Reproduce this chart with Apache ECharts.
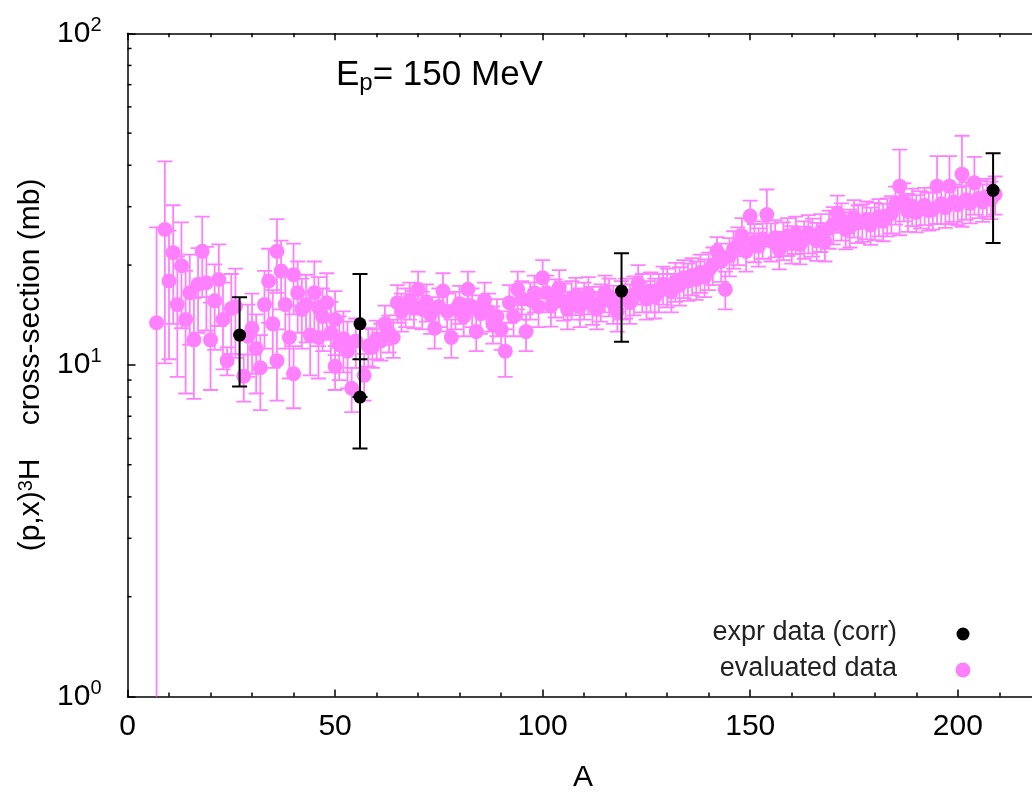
<!DOCTYPE html>
<html>
<head>
<meta charset="utf-8">
<script src="https://cdn.jsdelivr.net/npm/echarts@6/dist/echarts.min.js"></script>
<style>
html,body{margin:0;padding:0;background:#fff;overflow:hidden;width:1032px;height:798px;}
#chart{width:1180px;height:798px;}
</style>
</head>
<body>
<div id="chart"></div>
<script>
// ---- data ----
const pinkA = [7,9,10,11,12,13,14,15,16,17,18,19,20,21,22,23,24,25,26,28,29,30,31,32,33,34,35,36,36,37,38,39,40,40,41,42,43,44,45,46,46,47,48,49,50,50,51,52,53,54,55,57,
  58,59,60,61,62,63,64,65,66,67,
  68,69,70,71,72,73,74,75,76,77,
  78,79,80,81,82,83,84,85,86,87,
  88,89,90,91,92,93,94,95,96,97,
  98,99,100,101,102,103,104,105,106,107,
  108,109,110,111,112,113,114,115,116,117,
  118,119,120,121,122,123,124,125,126,127,
  128,129,130,131,132,133,134,135,136,137,
  138,139,140,141,142,143,144,145,146,147,
  148,149,150,151,152,153,154,155,156,157,
  158,159,160,161,162,163,164,165,166,167,
  168,169,170,171,172,173,174,175,176,177,
  178,179,180,181,182,183,184,185,186,187,
  188,189,190,191,192,193,194,195,196,197,
  198,199,200,201,202,203,204,205,206,207,
  208,209];
const pinkV = [13.4,25.6,17.9,21.8,15.2,19.9,13.7,16.5,11.9,17.5,22.0,17.7,11.9,15.6,18.1,13.7,10.3,14.8,15.0,9.25,12.2,12.9,11.2,9.8,15.2,17.9,13.3,22.0,10.3,19.2,15.2,12.1,18.7,9.4,16.5,14.7,15.2,12.3,16.5,12.1,14.9,14.0,15.4,12.5,9.9,13.7,11.5,12.0,11.0,8.5,11.8,9.3,
  11.4,11.3,12.0,11.8,13.3,12.5,12.1,15.4,14.5,15.0,
  15.7,14.8,16.9,14.7,15.5,14.2,12.9,15.0,16.7,14.5,
  12.1,14.7,15.3,14.0,16.9,15.0,12.6,14.3,15.7,14.5,
  13.3,14.0,12.8,11.0,15.4,14.0,16.9,15.8,12.6,15.7,
  16.5,15.0,18.3,16.5,15.05,16.0,17.1,15.6,14.7,15.8,
  16.2,15.0,15.7,16.3,15.2,14.7,15.5,16.5,16.1,15.3,
  14.5,15.8,16.0,15.4,16.3,17.6,16.6,15.8,16.7,16.0,
  16.6,17.5,17.2,16.6,17.9,17.4,18.3,17.9,18.6,18.1,
  19.0,18.4,19.3,20.0,22.0,20.5,16.9,21.3,22.4,23.0,
  24.5,22.0,28.1,23.5,22.8,24.0,28.4,23.6,24.2,22.3,
  23.8,24.5,23.2,24.8,23.1,24.0,25.0,24.4,23.7,25.2,
  23.6,25.8,26.5,28.7,27.2,25.6,26.0,27.8,26.8,27.0,
  27.5,26.4,27.3,28.0,27.1,28.1,28.6,30.5,34.6,31.2,
  29.0,30.1,28.8,29.6,30.3,29.2,29.4,34.6,30.6,29.8,
  34.6,31.0,30.4,37.6,31.5,30.7,35.4,31.8,31.0,32.2,
  31.6,32.7];
const pinkErr = [12.6,15.5,7.5,8.5,6.0,7.0,5.5,5.0,4.0,5.0,6.0,5.0,3.5,4.5,5.0,4.0,1.0,4.0,4.5,1.5,3.0,3.5,3.0,2.5,4.0,4.5,3.5,5.5,2.5,4.5,4.0,3.0,4.5,2.0,4.0,3.5,3.5,3.0,4.0,3.0,3.5,3.0,3.5,3.0,1.5,3.0,2.5,2.5,2.5,1.3,2.0,1.5,
  1.5,1.5,1.6,1.5,1.8,1.6,1.6,2.0,1.9,2.0,
  2.0,1.9,2.2,1.9,2.0,1.8,1.7,2.0,2.2,1.9,
  1.6,1.9,2.0,1.8,2.2,2.0,1.6,1.9,2.0,1.9,
  1.7,1.8,1.7,1.8,2.0,1.8,2.2,2.1,1.6,2.0,
  2.1,2.0,2.4,2.1,2.0,2.1,2.2,2.0,1.9,2.1,
  2.1,2.0,2.0,2.1,2.0,1.9,2.0,2.1,2.1,2.0,
  1.9,2.1,2.2,2.1,2.2,2.4,2.2,2.1,2.3,2.2,
  2.2,2.3,2.3,2.2,2.4,2.3,2.4,2.3,2.4,2.4,
  2.5,2.4,2.5,2.6,2.3,2.7,2.2,2.8,2.9,3.0,
  3.2,2.9,3.2,3.1,3.0,3.1,5.4,3.1,3.1,2.9,
  3.1,3.2,3.0,3.2,3.0,3.1,3.3,3.2,3.1,3.3,
  3.1,3.4,3.4,3.7,3.5,3.3,3.4,3.6,3.5,3.5,
  3.6,3.4,3.5,3.6,3.5,3.7,3.7,4.0,10.0,4.1,
  3.8,3.9,3.7,3.8,3.9,3.8,3.8,8.0,4.0,3.9,
  8.0,4.0,4.0,11.5,4.1,4.0,7.0,4.1,4.0,4.2,
  4.1,4.3];

const exprA  = [27, 56, 56, 119, 208.5];
const exprV  = [12.3, 13.3, 8.0, 16.7, 33.6];
const exprLo = [8.6, 8.0, 5.6, 11.75, 23.3];
const exprHi = [16.0, 18.8, 10.4, 21.7, 43.5];

const xTicks = {min: 0, max: 250, interval: 50};
const yLogMin = 1, yLogMax = 100;
const yMinorTicks = [2,3,4,5,6,7,8,9,20,30,40,50,60,70,80,90];

const titleMain = 'E', titleSub = 'p', titleRest = '= 150 MeV';
const yTitle = '(p,x){s|3}H    cross-section (mb)';
const xTitle = 'A';
const legendNames = ['expr data (corr)', 'evaluated data'];

// ---- chart ----
const PINK = '#ff80ff';
const FONT = '"Liberation Sans", Arial, sans-serif';
const chart = echarts.init(document.getElementById('chart'), null, {renderer: 'canvas'});

function errRender(color, lw, hw) {
  return function (params, api) {
    const x = api.value(0), lo = api.value(1), hi = api.value(2);
    const a = api.coord([x, lo]), b = api.coord([x, hi]);
    const st = {stroke: color, lineWidth: lw};
    return {type: 'group', children: [
      {type: 'line', shape: {x1: a[0], y1: a[1], x2: b[0], y2: b[1]}, style: st},
      {type: 'line', shape: {x1: a[0] - hw, y1: a[1], x2: a[0] + hw, y2: a[1]}, style: st},
      {type: 'line', shape: {x1: b[0] - hw, y1: b[1], x2: b[0] + hw, y2: b[1]}, style: st}
    ]};
  };
}

const gridLeft = 127.5, gridTop = 33.3, gridW = 250 * 4.1515, gridH = 663.2;

const option = {
  backgroundColor: '#fff',
  animation: false,
  grid: {left: gridLeft, top: gridTop, width: gridW, height: gridH, containLabel: false},
  xAxis: [{
    type: 'value', min: xTicks.min, max: xTicks.max, interval: xTicks.interval,
    position: 'bottom',
    axisLine: {show: true, lineStyle: {color: '#000', width: 1.5}},
    axisTick: {show: true, inside: true, length: 7, lineStyle: {color: '#000', width: 1.5}},
    minorTick: {show: true, splitNumber: 5, length: 4, lineStyle: {color: '#000', width: 1.5}},
    axisLabel: {fontFamily: FONT, fontSize: 30, color: '#000', margin: 15, showMaxLabel: false},
    splitLine: {show: false}
  }, {
    type: 'value', min: xTicks.min, max: xTicks.max, interval: xTicks.interval,
    position: 'top',
    axisLine: {show: true, lineStyle: {color: '#000', width: 1.5}},
    axisTick: {show: true, inside: true, length: 7, lineStyle: {color: '#000', width: 1.5}},
    minorTick: {show: true, splitNumber: 5, length: 4, lineStyle: {color: '#000', width: 1.5}},
    axisLabel: {show: false},
    splitLine: {show: false}
  }],
  yAxis: {
    type: 'log', logBase: 10, min: yLogMin, max: yLogMax,
    name: yTitle, nameLocation: 'middle', nameGap: 76,
    nameTextStyle: {fontFamily: FONT, fontSize: 30, color: '#000',
      rich: {s: {fontFamily: FONT, fontSize: 20, color: '#000', verticalAlign: 'top', lineHeight: 20}}},
    axisLine: {show: true, lineStyle: {color: '#000', width: 1.5}},
    axisTick: {show: true, inside: true, length: 8, lineStyle: {color: '#000', width: 1.5}},
    axisLabel: {
      margin: 26,
      formatter: function (v) { return '{b|10}{s|' + Math.round(Math.log10(v)) + '}'; },
      rich: {
        b: {fontFamily: FONT, fontSize: 30, color: '#000', lineHeight: 36},
        s: {fontFamily: FONT, fontSize: 20, color: '#000', verticalAlign: 'top', lineHeight: 20}
      }
    },
    splitLine: {show: false}
  },
  series: [
    {
      type: 'custom', name: 'evalErr', clip: true, z: 2,
      renderItem: errRender(PINK, 1.8, 7.5),
      encode: {x: 0, y: [1, 2]},
      data: pinkA.map((a, i) => [a, Math.max(pinkV[i] - pinkErr[i], 0.5), pinkV[i] + pinkErr[i]])
    },
    {
      type: 'scatter', name: legendNames[1], z: 3, symbol: 'circle', symbolSize: 15,
      itemStyle: {color: PINK, opacity: 1},
      data: pinkA.map((a, i) => [a, pinkV[i]])
    },
    {
      type: 'custom', name: 'exprErr', clip: true, z: 4,
      renderItem: errRender('#000', 2, 7.5),
      encode: {x: 0, y: [1, 2]},
      data: exprA.map((a, i) => [a, exprLo[i], exprHi[i]])
    },
    {
      type: 'scatter', name: legendNames[0], z: 5, symbol: 'circle', symbolSize: 13,
      itemStyle: {color: '#000', opacity: 1},
      data: exprA.map((a, i) => [a, exprV[i]])
    },
    {
      type: 'custom', name: 'yMinor', clip: false, z: 6, silent: true,
      renderItem: function (params, api) {
        const p = api.coord([0, api.value(1)]);
        return {type: 'line', shape: {x1: p[0], y1: p[1], x2: p[0] + 4, y2: p[1]},
          style: {stroke: '#000', lineWidth: 1.5}};
      },
      encode: {x: 0, y: 1},
      data: yMinorTicks.map(v => [0, v])
    }
  ],
  graphic: [
    {type: 'text', left: 336, top: 58, z: 10, style: {
      text: '{a|' + titleMain + '}{b|' + titleSub + '}{a|' + titleRest + '}',
      rich: {
        a: {fontFamily: FONT, fontSize: 35, fill: '#000', lineHeight: 40},
        b: {fontFamily: FONT, fontSize: 24, fill: '#000', verticalAlign: 'bottom', lineHeight: 26}
      }
    }},
    {type: 'text', x: 583, y: 778, z: 10, style: {text: xTitle, fontFamily: FONT, fontSize: 30, fill: '#000', align: 'center', verticalAlign: 'middle'}},
    {type: 'text', x: 897, y: 633, z: 10, style: {text: legendNames[0], fontFamily: FONT, fontSize: 27, fill: '#222', align: 'right', verticalAlign: 'middle'}},
    {type: 'text', x: 897, y: 669, z: 10, style: {text: legendNames[1], fontFamily: FONT, fontSize: 27, fill: '#222', align: 'right', verticalAlign: 'middle'}},
    {type: 'circle', shape: {cx: 963, cy: 634, r: 6.5}, style: {fill: '#000'}, z: 10},
    {type: 'circle', shape: {cx: 963, cy: 670, r: 7.5}, style: {fill: PINK}, z: 10}
  ]
};
chart.setOption(option);
</script>
</body>
</html>
